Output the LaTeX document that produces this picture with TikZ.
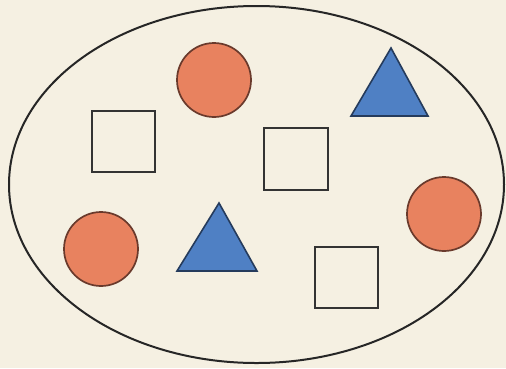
\documentclass[tikz,border=0pt]{standalone}
\usetikzlibrary{shapes.geometric}
\definecolor{paper}{HTML}{F5F0E2}
\definecolor{disc}{HTML}{E8825F}
\definecolor{discline}{HTML}{6A3A2C}
\definecolor{tri}{HTML}{4F80C4}
\definecolor{triline}{HTML}{253B5C}
\begin{document}
\begin{tikzpicture}[x=1pt,y=-1pt,
  dot/.style={circle,draw=discline,fill=disc,line width=1.7pt,minimum size=74pt,inner sep=0pt},
  sq/.style={draw=black!80,line width=1.6pt,fill=none},
  trishape/.style={draw=triline,fill=tri,line width=1.6pt,line join=miter}]
\useasboundingbox (0,0) rectangle (506,368);
\fill[paper] (0,0) rectangle (506,368);
\draw[line width=2pt,black!85] (256.5,184.5) ellipse [x radius=247.5, y radius=178.5];
\node[dot] (c1) at (214,80) {};
\node[dot] (c2) at (444,214) {};
\node[dot] (c3) at (101,249) {};
\draw[trishape] (351,116) -- (391,48) -- (428,116) -- cycle;
\draw[trishape] (177,271) -- (219,203) -- (257,271) -- cycle;
\draw[sq] (92,111) rectangle (155,172);
\draw[sq] (264,128) rectangle (328,190);
\draw[sq] (315,247) rectangle (378,308);
\end{tikzpicture}
\end{document}
